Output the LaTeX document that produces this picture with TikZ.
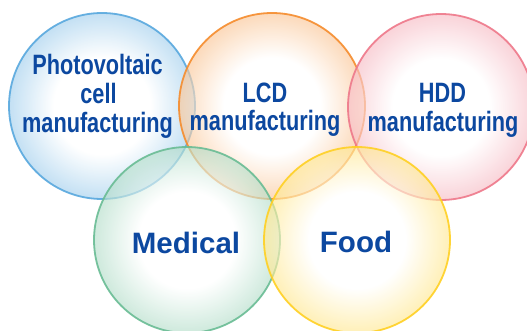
\documentclass[tikz,border=0pt]{standalone}
\usepackage{fontspec}
\setmainfont{Liberation Sans}
\newfontfamily\narrowfont[FakeStretch=0.775]{Liberation Sans}
\definecolor{txt}{RGB}{12,72,160}
\definecolor{cblue}{RGB}{88,168,222}
\definecolor{corange}{RGB}{245,140,45}
\definecolor{cred}{RGB}{238,120,138}
\definecolor{cgreen}{RGB}{105,188,148}
\definecolor{cyellow}{RGB}{255,208,35}
\colorlet{tblue}{cblue!55}
\colorlet{torange}{corange!50}
\colorlet{tred}{cred!50}
\colorlet{tgreen}{cgreen!50}
\colorlet{tyellow}{cyellow!50}
\pgfdeclareradialshading{shblue}{\pgfpoint{0bp}{0bp}}{color(0bp)=(white); color(13bp)=(white); color(25bp)=(tblue); color(50bp)=(tblue)}
\pgfdeclareradialshading{shorange}{\pgfpoint{0bp}{0bp}}{color(0bp)=(white); color(13bp)=(white); color(25bp)=(torange); color(50bp)=(torange)}
\pgfdeclareradialshading{shred}{\pgfpoint{0bp}{0bp}}{color(0bp)=(white); color(13bp)=(white); color(25bp)=(tred); color(50bp)=(tred)}
\pgfdeclareradialshading{shgreen}{\pgfpoint{0bp}{0bp}}{color(0bp)=(white); color(13bp)=(white); color(25bp)=(tgreen); color(50bp)=(tgreen)}
\pgfdeclareradialshading{shyellow}{\pgfpoint{0bp}{0bp}}{color(0bp)=(white); color(13bp)=(white); color(25bp)=(tyellow); color(50bp)=(tyellow)}
\tikzset{
  ring/.style={line width=1.8pt, fill opacity=0.65, draw opacity=0.9},
  narrowlbl/.style={anchor=base, inner sep=0pt, text=txt, font=\narrowfont\bfseries\fontsize{28}{28}\selectfont},
  widelbl/.style={anchor=base, inner sep=0pt, text=txt, font=\bfseries\fontsize{29.5}{29.5}\selectfont},
}
\begin{document}
\begin{tikzpicture}[x=1pt,y=-1pt]
\useasboundingbox (0,0) rectangle (527,331);
\clip (0,0) rectangle (527,331);
\path[ring, draw=cblue, shading=shblue] (102,106) circle[radius=93];
\path[ring, draw=corange, shading=shorange] (272,106) circle[radius=93];
\path[ring, draw=cred, shading=shred] (441,107) circle[radius=93];
\path[ring, draw=cgreen, shading=shgreen] (187,240) circle[radius=93];
\path[ring, draw=cyellow, shading=shyellow] (357,240) circle[radius=93];
\node[narrowlbl] (pv1) at (97.5,75) {Photovoltaic};
\node[narrowlbl] (pv2) at (98.5,104) {cell};
\node[narrowlbl] (pv3) at (97.5,132.5) {manufacturing};
\node[narrowlbl] (lcd1) at (265,103) {LCD};
\node[narrowlbl] (lcd2) at (265,131) {manufacturing};
\node[narrowlbl] (hdd1) at (442.5,102.5) {HDD};
\node[narrowlbl] (hdd2) at (443,131.5) {manufacturing};
\node[widelbl] (med) at (186,253) {Medical};
\node[widelbl] (food) at (356,252.5) {Food};
\end{tikzpicture}
\end{document}
